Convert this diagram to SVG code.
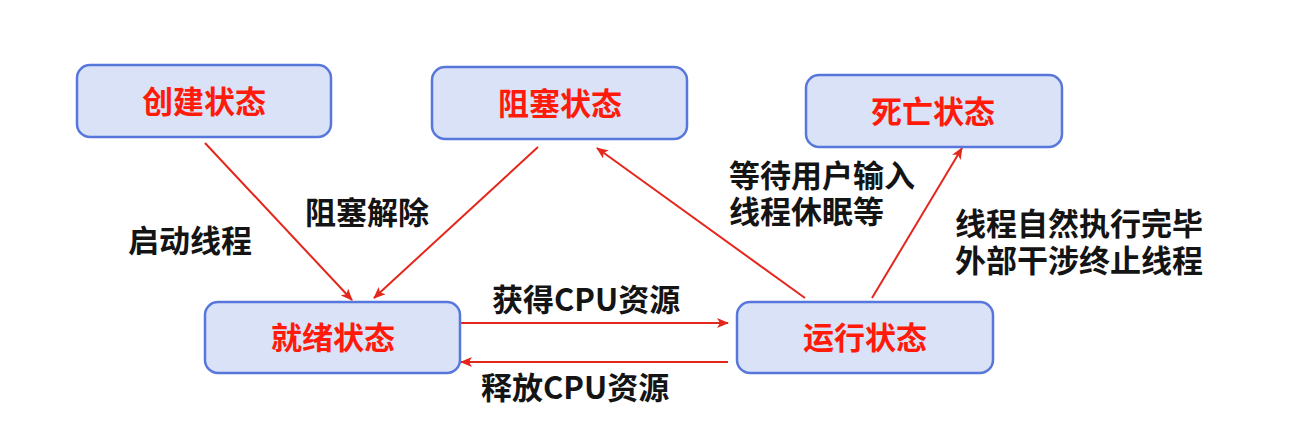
<svg xmlns="http://www.w3.org/2000/svg" width="1308" height="435" viewBox="0 0 1308 435">
<defs>
<style>
.box{fill:#d9e2f7;stroke:#5877dc;stroke-width:2.5}
.nt{font-family:"Noto Sans CJK SC","Noto Sans",sans-serif;font-weight:700;font-size:31px;fill:#ff1a0a;text-anchor:middle}
.lb{font-family:"Noto Sans CJK SC","Noto Sans",sans-serif;font-weight:700;font-size:31px;fill:#141414}
.ml{font-family:"Liberation Sans","Noto Sans CJK SC",sans-serif}
.ar{stroke:#e4261c;stroke-width:2;fill:none;marker-end:url(#ah)}
</style>
<marker id="ah" viewBox="0 0 12 10" refX="11" refY="5" markerWidth="12" markerHeight="10" markerUnits="userSpaceOnUse" orient="auto">
<path d="M0,0 L12,5 L0,10 L3,5 Z" fill="#e4261c"/>
</marker>
</defs>
<rect width="1308" height="435" fill="#ffffff"/>
<g id="connectors">
<line class="ar" x1="205" y1="143" x2="352" y2="300"/>
<line class="ar" x1="538" y1="147" x2="374" y2="298"/>
<line class="ar" x1="805" y1="298" x2="597" y2="148"/>
<line class="ar" x1="872" y1="298" x2="962" y2="148"/>
<line class="ar" x1="461" y1="323" x2="728" y2="323"/>
<line class="ar" x1="728" y1="362" x2="461" y2="362"/>
</g>
<g id="node-create">
<rect class="box" x="77" y="65" width="254" height="72" rx="13"/>
<text class="nt" x="204" y="113">创建状态</text>
</g>
<g id="node-blocked">
<rect class="box" x="432" y="67" width="255" height="72" rx="13"/>
<text class="nt" x="560" y="115">阻塞状态</text>
</g>
<g id="node-dead">
<rect class="box" x="806" y="75" width="256" height="72" rx="13"/>
<text class="nt" x="933" y="123">死亡状态</text>
</g>
<g id="node-ready">
<rect class="box" x="205" y="302" width="255" height="71" rx="13"/>
<text class="nt" x="333" y="349">就绪状态</text>
</g>
<g id="node-running">
<rect class="box" x="737" y="302" width="256" height="71" rx="13"/>
<text class="nt" x="865" y="349">运行状态</text>
</g>
<g id="labels">
<text class="lb" x="128" y="252">启动线程</text>
<text class="lb" x="305" y="224">阻塞解除</text>
<text class="lb ml" x="729" y="187"><tspan x="729" y="187">等待用户输入</tspan><tspan x="729" y="223">线程休眠等</tspan></text>
<text class="lb ml" x="955" y="235"><tspan x="955" y="235">线程自然执行完毕</tspan><tspan x="955" y="272">外部干涉终止线程</tspan></text>
<text class="lb" x="492" y="311">获得CPU资源</text>
<text class="lb" x="481" y="399">释放CPU资源</text>
</g>
</svg>
